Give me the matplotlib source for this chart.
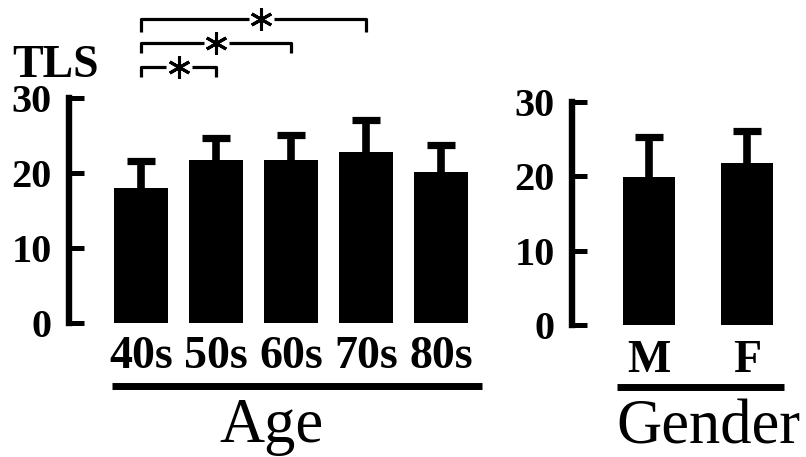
import matplotlib
matplotlib.use("Agg")
import matplotlib.pyplot as plt
import numpy as np

# data
age_groups = ["40s", "50s", "60s", "70s", "80s"]
age_mean = [18.0, 21.7, 21.7, 22.8, 20.1]
age_err = [3.6, 3.0, 3.4, 4.3, 3.7]

genders = ["M", "F"]
gender_mean = [19.9, 21.8]
gender_err = [5.4, 4.3]

# significant pairs (index into age_groups) and where the star sits
sig_pairs = [(0, 1), (0, 2), (0, 3)]
sig_star_x = [0.5, 1.0, 1.6]

yticks = [0, 10, 20, 30]
serif = "Liberation Serif"

fig = plt.figure(figsize=(8.06, 4.57), dpi=100)
ax1 = fig.add_axes([68.5 / 806, 134 / 457, 418 / 806, 225 / 457])
ax2 = fig.add_axes([571.5 / 806, 132 / 457, 230 / 806, 223 / 457])


def style_axis(ax, pad_x):
    for s in ["top", "right", "bottom"]:
        ax.spines[s].set_visible(False)
    ax.spines["left"].set_linewidth(4.6)
    ax.spines["left"].set_capstyle("projecting")
    ax.set_ylim(0, 30)
    ax.set_yticks(yticks)
    ax.tick_params(axis="y", direction="in", length=11, width=3.6, pad=12)
    ax.tick_params(axis="x", length=0, pad=pad_x)
    for lab in ax.get_yticklabels():
        lab.set_fontfamily(serif)
        lab.set_fontweight("bold")
        lab.set_fontsize(29)
    ax.patch.set_visible(False)


def draw_bars(ax, mean, err, width):
    x = np.arange(len(mean))
    top = np.array(mean) + np.array(err)
    ax.bar(x, mean, width=width, color="black")
    # upper error only: stem plus a flat cap
    ax.errorbar(x, mean, yerr=[np.zeros(len(x)), err], fmt="none",
                ecolor="black", elinewidth=5.5, capsize=0)
    ax.plot(x, top, ls="none", marker="_", ms=19.5, mew=5.2, color="black")
    return x


# ---- Age panel
x1 = draw_bars(ax1, age_mean, age_err, 0.72)
ax1.set_xlim(-0.97, 4.6)
ax1.set_xticks(x1)
ax1.set_xticklabels(age_groups, fontfamily=serif, fontweight="bold", fontsize=33)
style_axis(ax1, 9)

ax1.plot([-0.39, 4.54], [-8.4, -8.4], color="black", lw=5, clip_on=False,
         solid_capstyle="butt")
ax1.text(1.74, -15.9, "Age", fontfamily=serif, fontsize=45,
         ha="center", va="baseline")

ax1.text(-1.72, 32.8, "TLS", fontfamily=serif, fontweight="bold", fontsize=33,
         ha="left", va="baseline")

# significance brackets
levels = [(34.1, 32.8), (37.3, 36.0), (40.5, 38.8)]
gap = 0.17
for (a, b), sx, (yh, yl) in zip(sig_pairs, sig_star_x, levels):
    ax1.plot([a, a, sx - gap], [yl, yh, yh], color="black", lw=2.3,
             clip_on=False, solid_capstyle="butt")
    ax1.plot([sx + gap, b, b], [yh, yh, yl], color="black", lw=2.3,
             clip_on=False, solid_capstyle="butt")
    ax1.plot([sx], [yh], marker=(6, 2, 0), markersize=16, mew=2.2,
             color="black", clip_on=False)

# ---- Gender panel
x2 = draw_bars(ax2, gender_mean, gender_err, 0.53)
ax2.set_xlim(-0.79, 1.55)
ax2.set_xticks(x2)
ax2.set_xticklabels(genders, fontfamily=serif, fontweight="bold", fontsize=33)
style_axis(ax2, 11)

ax2.plot([-0.33, 1.37], [-8.4, -8.4], color="black", lw=5, clip_on=False,
         solid_capstyle="butt")
ax2.text(0.6, -15.9, "Gender", fontfamily=serif, fontsize=45,
         ha="center", va="baseline")

fig.savefig("out.png", dpi=100)
